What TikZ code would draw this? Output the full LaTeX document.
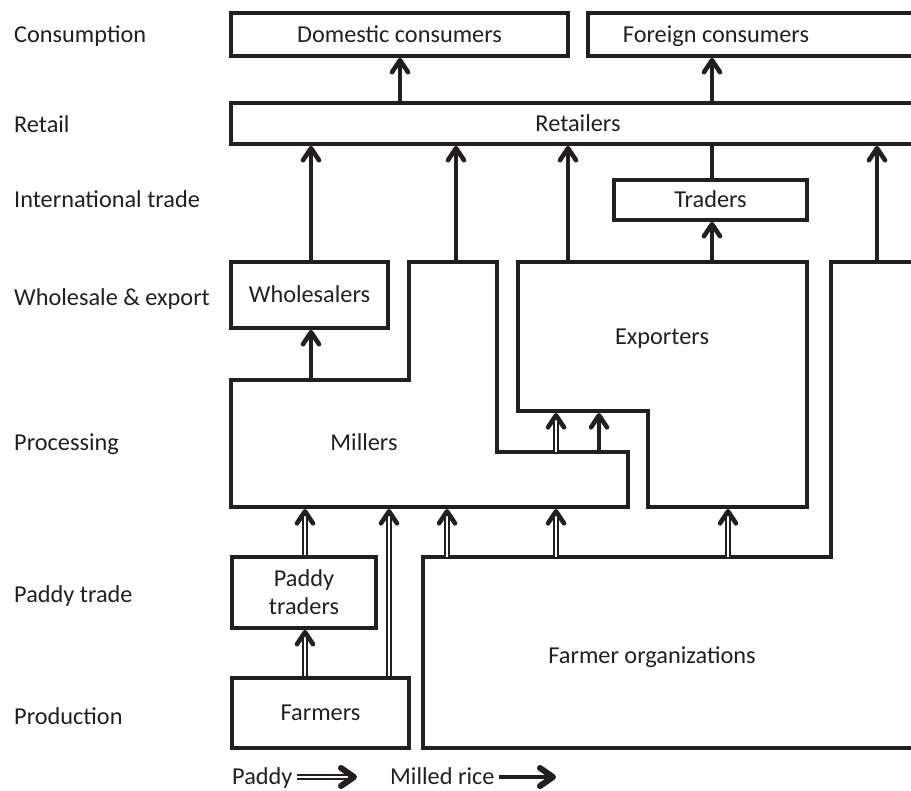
\documentclass[tikz,border=0pt]{standalone}
\usepackage{fontspec}
\setmainfont{Carlito}
\usetikzlibrary{arrows.meta,calc}
\definecolor{ink}{RGB}{35,31,32}
\begin{document}
\begin{tikzpicture}[x=1pt,y=-1pt,
  font=\fontsize{24.3}{30}\selectfont, color=ink,
  box/.style={draw, line width=3.8pt, inner sep=0pt, text height=15.5pt, text depth=0pt},
  txt/.style={inner sep=0pt, text height=15.5pt, text depth=0pt},
  lbl/.style={inner sep=0pt, anchor=base west},
  outline/.style={line width=3.8pt, line join=miter},
  milled/.style={line width=3.4pt, -{Straight Barb[length=12pt, width=16pt, line width'=4.6pt, round]}},
  plain/.style={line width=3.4pt},
  paddy/.style={double, double distance=2.4pt, line width=1.6pt, -{Straight Barb[length=12pt, width=16pt, line width'=4.6pt, round]}},
  bigmilled/.style={line width=3.4pt, -{Straight Barb[length=13pt, width=18pt, line width'=6pt, round]}},
  bigpaddy/.style={double, double distance=2.4pt, line width=1.6pt, -{Straight Barb[length=13pt, width=18pt, line width'=6pt, round]}},
]
\useasboundingbox (0,0) rectangle (911,791);
\clip (0,0) rectangle (911,791);

% level labels
\node[lbl] (lconsum) at (14,43) {Consumption};
\node[lbl] (lretail) at (14,133) {Retail};
\node[lbl] (lint) at (14,208) {International trade};
\node[lbl] (lwhole) at (14,306) {Wholesale \& export};
\node[lbl] (lproc) at (14,451) {Processing};
\node[lbl] (lpaddy) at (14,602) {Paddy trade};
\node[lbl] (lprod) at (14,724) {Production};

% rectangular boxes
\node[box, minimum width=337pt, minimum height=43pt] (dom) at (399.5,34.5) {Domestic consumers};
\node[box, minimum width=345pt, minimum height=43pt] (frn) at (760.5,34.5) {};
\node[txt] (frntext) at (716,34.5) {Foreign consumers};
\node[box, minimum width=702pt, minimum height=41pt] (ret) at (582,123.5) {};
\node[txt] (rettext) at (578,123.5) {Retailers};
\node[box, minimum width=193pt, minimum height=40pt] (trd) at (710.5,200) {Traders};
\node[box, minimum width=157pt, minimum height=66pt] (whl) at (309.5,295) {Wholesalers};
\node[draw, line width=3.8pt, inner sep=0pt, minimum width=144pt, minimum height=71pt, align=center] (pdt) at (304,592.5) {Paddy\\[-2pt]traders};
\node[box, minimum width=177pt, minimum height=70pt] (frm) at (320.5,713) {Farmers};

% irregular blocks
\draw[outline] (231,380) -- (409,380) -- (409,262) -- (497,262) -- (497,452) -- (628,452) -- (628,507) -- (231,507) -- cycle;
\node[txt] (mil) at (364,443) {Millers};
\draw[outline] (518,262) -- (807,262) -- (807,507) -- (648,507) -- (648,411) -- (518,411) -- cycle;
\node[txt] (exp) at (662,337) {Exporters};
\draw[outline] (940,748) -- (423,748) -- (423,557) -- (831,557) -- (831,262) -- (940,262);
\node[txt] (fo) at (652,656) {Farmer organizations};

% reference coordinates
\coordinate (miltop) at (409,262);
\coordinate (milmid) at (231,380);
\coordinate (milstep) at (497,452);
\coordinate (milbot) at (231,509);
\coordinate (exptop) at (518,262);
\coordinate (expstep) at (518,413);
\coordinate (expbot) at (648,509);
\coordinate (fotop) at (423,557);
\coordinate (fotopR) at (831,262);
\coordinate (x311) at (311,0);
\coordinate (x400) at (400,0);
\coordinate (x456) at (456,0);
\coordinate (x568) at (568,0);
\coordinate (x712) at (712,0);
\coordinate (x877) at (877,0);
\coordinate (x599) at (599,0);
\coordinate (x556) at (556,0);
\coordinate (x447) at (447,0);
\coordinate (x728) at (728,0);
\coordinate (x305) at (305,0);
\coordinate (x389) at (389,0);

% milled rice flows
\draw[milled] (x400 |- ret.north) -- (x400 |- dom.south);
\draw[milled] (x712 |- ret.north) -- (x712 |- frn.south);
\draw[milled] (x311 |- whl.north) -- (x311 |- ret.south);
\draw[milled] (x456 |- miltop) -- (x456 |- ret.south);
\draw[milled] (x568 |- exptop) -- (x568 |- ret.south);
\draw[plain] (x712 |- trd.north) -- (x712 |- ret.south);
\draw[milled] (x712 |- exptop) -- (x712 |- trd.south);
\draw[milled] (x877 |- fotopR) -- (x877 |- ret.south);
\draw[milled] (x311 |- milmid) -- (x311 |- whl.south);
\draw[milled] (x599 |- milstep) -- (x599 |- expstep);

% paddy flows
\draw[paddy] (x556 |- milstep) -- (x556 |- expstep);
\draw[paddy] (x447 |- fotop) -- (x447 |- milbot);
\draw[paddy] (x556 |- fotop) -- (x556 |- milbot);
\draw[paddy] (x728 |- fotop) -- (x728 |- expbot);
\draw[paddy] (x305 |- frm.north) -- (x305 |- pdt.south);
\draw[paddy] (x305 |- pdt.north) -- (x305 |- milbot);
\draw[paddy] (x389 |- frm.north) -- (x389 |- milbot);

% legend
\node[lbl] (lgpaddy) at (232,784) {Paddy};
\coordinate (lgpaddyend) at (357,777);
\draw[bigpaddy] (lgpaddy.east |- lgpaddyend) ++(4,0) -- (lgpaddyend);
\node[lbl] (lgmilled) at (390,784) {Milled rice};
\coordinate (lgmilledend) at (556,777);
\draw[bigmilled] (lgmilled.east |- lgmilledend) ++(4,0) -- (lgmilledend);
\end{tikzpicture}
\end{document}
